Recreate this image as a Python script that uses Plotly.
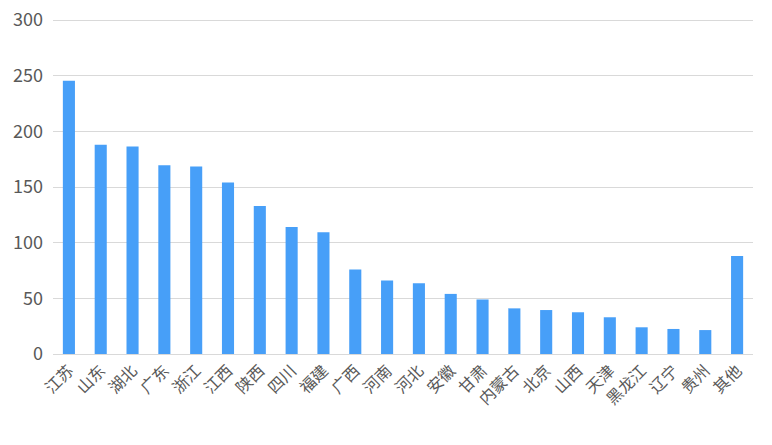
import plotly.graph_objects as go

categories = ["江苏", "山东", "湖北", "广东", "浙江", "江西", "陕西", "四川", "福建", "广西", "河南",
              "河北", "安徽", "甘肃", "内蒙古", "北京", "山西", "天津", "黑龙江", "辽宁", "贵州", "其他"]
values = [245.5, 188, 186.5, 169.5, 168.5, 154, 133, 114, 109.5, 76, 66,
          63.5, 54, 49, 41, 39.5, 37.5, 33, 24, 22.5, 21.5, 88]
y_ticks = [0, 50, 100, 150, 200, 250, 300]

fig = go.Figure(go.Bar(x=categories, y=values, marker_color="#479ff8", marker_line_width=0))

font_family = "Microsoft YaHei, Noto Sans CJK SC, sans-serif"
fig.update_layout(
    width=772, height=445,
    margin=dict(l=53, r=19, t=19, b=91, autoexpand=False),
    paper_bgcolor="white", plot_bgcolor="white",
    bargap=0.62,
    showlegend=False,
    font=dict(family=font_family, color="#595959", size=16),
)
fig.update_xaxes(
    tickangle=-45, showgrid=False, showline=True, linecolor="#d9d9d9", linewidth=1,
    tickfont=dict(size=16, color="#595959"), ticks="", automargin=False,
)
fig.update_yaxes(
    range=[0, 301], tickvals=y_ticks, showgrid=True, gridcolor="#d9d9d9", gridwidth=1,
    zeroline=False, showline=False, tickfont=dict(size=18, color="#595959"), ticks="",
    ticklabelstandoff=9, ticklabeloverflow="allow", automargin=False,
)
fig.write_html("out.html", post_script="document.body.style.margin='0';",
               config={"displayModeBar": False})
